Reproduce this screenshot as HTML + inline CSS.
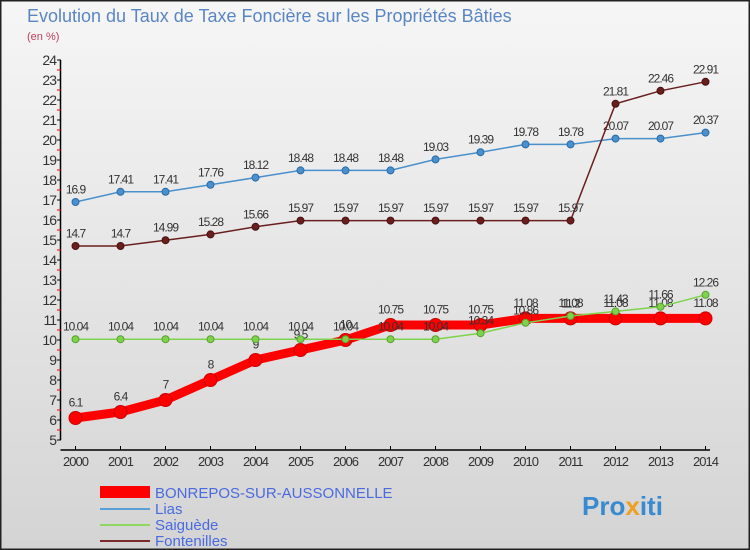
<!DOCTYPE html>
<html><head><meta charset="utf-8"><style>
body{margin:0}
#c{width:750px;height:550px;position:relative;overflow:hidden;background:linear-gradient(#f6f6f6,#d4d4d4);font-family:"Liberation Sans",sans-serif}
text{font-family:"Liberation Sans",sans-serif}
</style></head><body>
<div id="c">
<svg id="s" width="750" height="550">
<rect x="0.5" y="0.5" width="749" height="549" fill="none" stroke="#222" stroke-width="2"/>
<text x="27" y="22" font-size="18" fill="#5a86c4">Evolution du Taux de Taxe Foncière sur les Propriétés Bâties</text>
<text x="27" y="40" font-size="11" fill="#c04060">(en %)</text>
<g id="axes"></g><g id="series"></g>
<g>
<rect x="100" y="486" width="50" height="12" fill="#f00"/>
<text x="155" y="498" font-size="15" fill="#4a6adf">BONREPOS-SUR-AUSSONNELLE</text>
<line x1="100" y1="509" x2="150" y2="509" stroke="#5aa0d8" stroke-width="2"/>
<text x="155" y="514" font-size="15" fill="#4a6adf">Lias</text>
<line x1="100" y1="525" x2="150" y2="525" stroke="#8ed860" stroke-width="2"/>
<text x="155" y="530" font-size="15" fill="#4a6adf">Saiguède</text>
<line x1="100" y1="541" x2="150" y2="541" stroke="#7a2a2a" stroke-width="2"/>
<text x="155" y="546" font-size="15" fill="#4a6adf">Fontenilles</text>
</g>
<text x="582" y="515" font-size="26" font-weight="bold" fill="#3a8ad0">Pro<tspan fill="#f0a020">x</tspan>iti</text>
</svg></div>
<script>
const years=[2000,2001,2002,2003,2004,2005,2006,2007,2008,2009,2010,2011,2012,2013,2014];
const yTicks=[5,6,7,8,9,10,11,12,13,14,15,16,17,18,19,20,21,22,23,24];
const bonrepos=[6.1,6.4,7,8,9,9.5,10,10.75,10.75,10.75,11.08,11.08,11.08,11.08,11.08];
const lias=[16.9,17.41,17.41,17.76,18.12,18.48,18.48,18.48,19.03,19.39,19.78,19.78,20.07,20.07,20.37];
const saiguede=[10.04,10.04,10.04,10.04,10.04,10.04,10.04,10.04,10.04,10.34,10.86,11.2,11.43,11.66,12.26];
const fontenilles=[14.7,14.7,14.99,15.28,15.66,15.97,15.97,15.97,15.97,15.97,15.97,15.97,21.81,22.46,22.91];
const NS="http://www.w3.org/2000/svg";
const X=i=>75.5+i*45, Y=v=>440-(v-5)*20;
function mk(t,a,p){const e=document.createElementNS(NS,t);for(const k in a)e.setAttribute(k,a[k]);p.appendChild(e);return e;}
const ax=document.getElementById('axes');
mk('line',{x1:60.5,y1:60,x2:60.5,y2:440,stroke:'#000','stroke-width':1.5},ax);
mk('line',{x1:60.5,y1:450,x2:710,y2:450,stroke:'#000','stroke-width':1.5},ax);
yTicks.forEach(v=>{
 mk('line',{x1:57,y1:Y(v),x2:61,y2:Y(v),stroke:'#000'},ax);
 if(v<24) mk('line',{x1:57,y1:Y(v+0.5),x2:61,y2:Y(v+0.5),stroke:'#e00'},ax);
 const t=mk('text',{x:56,y:Y(v)+5,'font-size':14,'text-anchor':'end',fill:'#333','letter-spacing':'-1'},ax);
 
 
 t.textContent=v;
});
years.forEach((y,i)=>{
 mk('line',{x1:X(i),y1:446,x2:X(i),y2:450,stroke:'#000'},ax);
 const t=mk('text',{x:X(i),y:466,'font-size':13,'text-anchor':'middle',fill:'#333','letter-spacing':'-1'},ax);
 
 
 t.textContent=y;
});
const sg=document.getElementById('series');
function series(name,vals,color,w,r,stroke){
 const g=mk('g',{},sg);
 
 
 mk('polyline',{points:vals.map((v,i)=>X(i)+','+Y(v)).join(' '),fill:'none',stroke:color,'stroke-width':w},g);
 vals.forEach((v,i)=>{
  const c=mk('circle',{cx:X(i),cy:Y(v),r:r,fill:color,stroke:stroke,'stroke-width':1},g);
  
  
  const t=mk('text',{x:X(i),y:Y(v)-r-5,'font-size':12,'text-anchor':'middle',fill:'#333','letter-spacing':'-1'},g);
  
  
  t.textContent=v;
 });
}
series('lias',lias,'#4a90cc',1.5,3.5,'#2a6aa8');
series('fontenilles',fontenilles,'#6a1f1f',1.5,3.5,'#4a0f0f');
series('bonrepos',bonrepos,'#f00',9,6.5,'#c00');
series('saiguede',saiguede,'#7ed34c',1.5,3.5,'#5aa030');
</script>
</body></html>
